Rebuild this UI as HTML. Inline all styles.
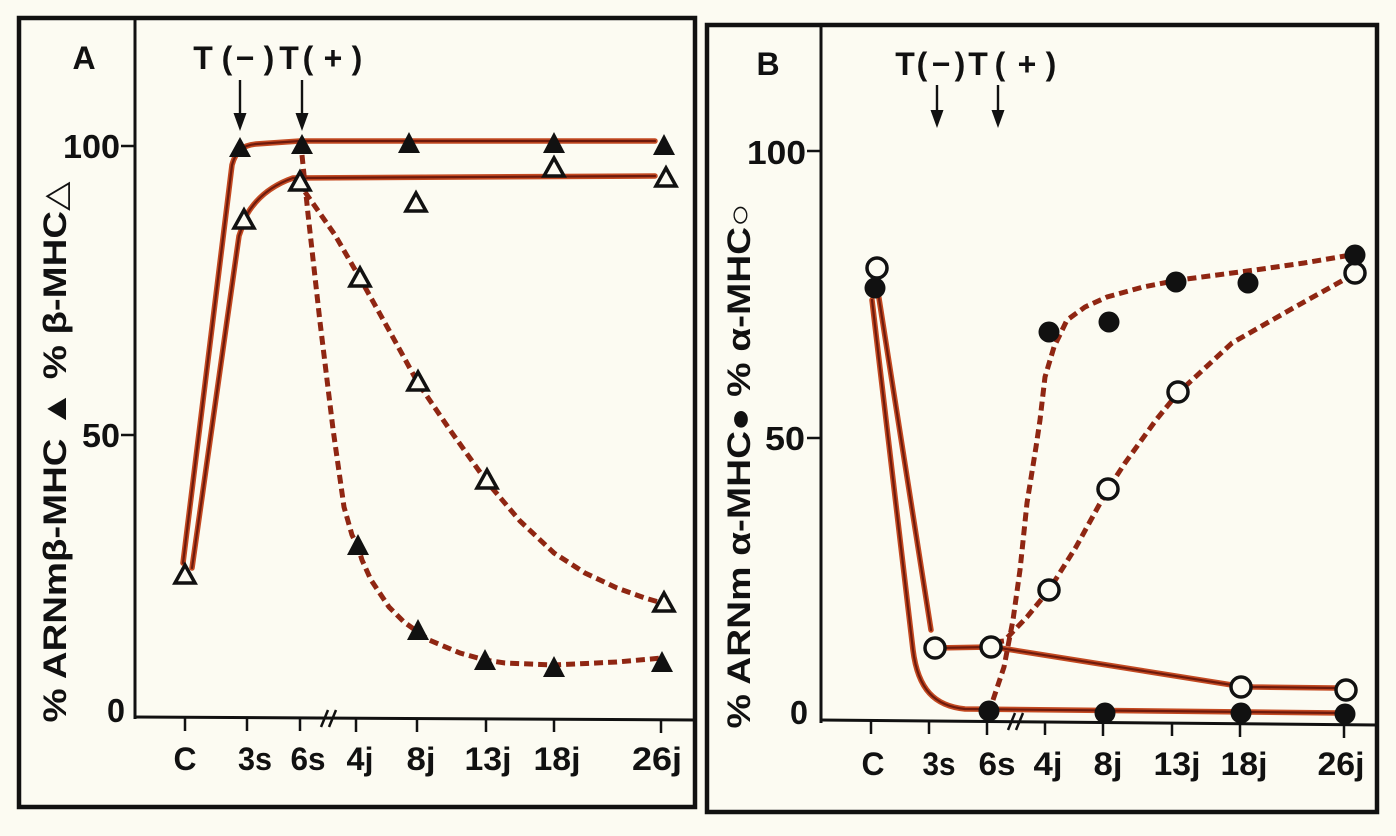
<!DOCTYPE html>
<html><head><meta charset="utf-8"><style>
html,body{margin:0;padding:0;background:#fcfbf2;}
svg{display:block;}
text{font-family:"Liberation Sans","DejaVu Sans",sans-serif;fill:#111;}
</style></head><body>
<svg width="1396" height="836" viewBox="0 0 1396 836" xmlns="http://www.w3.org/2000/svg">
<rect x="0" y="0" width="1396" height="836" fill="#fcfbf2"/>

<!-- ================= PANEL A ================= -->
<rect x="19" y="18" width="676" height="789" fill="none" stroke="#111" stroke-width="4.5"/>
<line x1="135" y1="18" x2="135" y2="719" stroke="#111" stroke-width="3"/>
<line x1="134" y1="717" x2="695" y2="720" stroke="#111" stroke-width="3"/>
<line x1="121" y1="146" x2="135" y2="146" stroke="#111" stroke-width="2.5"/>
<line x1="121" y1="435" x2="135" y2="435" stroke="#111" stroke-width="2.5"/>
<g stroke="#111" stroke-width="2.5">
<line x1="185" y1="718" x2="185" y2="731"/><line x1="247" y1="718" x2="247" y2="731"/>
<line x1="300" y1="718" x2="300" y2="731"/><line x1="356" y1="719" x2="356" y2="732"/>
<line x1="417" y1="719" x2="417" y2="732"/><line x1="486" y1="719" x2="486" y2="732"/>
<line x1="554" y1="719" x2="554" y2="732"/><line x1="661" y1="720" x2="661" y2="733"/>
<line x1="321" y1="727" x2="328" y2="710"/><line x1="329" y1="727" x2="336" y2="710"/>
</g>
<g font-weight="bold" font-size="33" text-anchor="end">
<text x="120" y="158" textLength="57" lengthAdjust="spacingAndGlyphs">100</text>
<text x="120" y="447" textLength="38" lengthAdjust="spacingAndGlyphs">50</text>
<text x="125" y="722" textLength="18" lengthAdjust="spacingAndGlyphs">0</text>
</g>
<g font-weight="bold" font-size="32" text-anchor="middle">
<text x="185" y="770" textLength="23" lengthAdjust="spacingAndGlyphs">C</text>
<text x="255" y="770" textLength="34" lengthAdjust="spacingAndGlyphs">3s</text>
<text x="308" y="770" textLength="35" lengthAdjust="spacingAndGlyphs">6s</text>
<text x="360" y="770" textLength="27" lengthAdjust="spacingAndGlyphs">4j</text>
<text x="421" y="770" textLength="29" lengthAdjust="spacingAndGlyphs">8j</text>
<text x="488" y="770" textLength="47" lengthAdjust="spacingAndGlyphs">13j</text>
<text x="557" y="770" textLength="47" lengthAdjust="spacingAndGlyphs">18j</text>
<text x="657" y="770" textLength="50" lengthAdjust="spacingAndGlyphs">26j</text>
</g>
<text transform="translate(66,452) rotate(-90)" text-anchor="middle" font-weight="bold" font-size="32" textLength="541" lengthAdjust="spacingAndGlyphs">% ARNmβ-MHC ▲ % β-MHC△</text>
<text x="84" y="69" text-anchor="middle" font-weight="bold" font-size="32">A</text>
<g font-size="32" font-weight="bold" text-anchor="middle">
<text x="203" y="69">T</text><text x="227" y="69">(</text><text x="245" y="69">−</text><text x="269" y="69">)</text>
<text x="289" y="69">T</text><text x="308" y="69">(</text><text x="333" y="69">+</text><text x="357" y="69">)</text>
</g>
<g stroke="#111" stroke-width="2.4">
<line x1="240" y1="80" x2="240" y2="118"/><line x1="302" y1="80" x2="302" y2="118"/>
</g>
<polygon points="233.5,113 246.5,113 240,131" fill="#111"/>
<polygon points="295.5,113 308.5,113 302,131" fill="#111"/>

<g fill="none" stroke-linecap="round" stroke-linejoin="round">
<path d="M183,563 L232,165 C236,150 244,145 256,144 L300,141 L655,141" stroke="#c44a22" stroke-width="5.5"/>
<path d="M183,563 L232,165 C236,150 244,145 256,144 L300,141 L655,141" stroke="#6e1a0c" stroke-width="2.2"/>
<path d="M192,568 L239,236 L246,216 C255,200 270,186 293,178 L655,176" stroke="#c44a22" stroke-width="5.5"/>
<path d="M192,568 L239,236 L246,216 C255,200 270,186 293,178 L655,176" stroke="#6e1a0c" stroke-width="2.2"/>
</g>
<g fill="none" stroke="#8f2612" stroke-width="5" stroke-dasharray="9 5">
<path d="M302,155 L308,214 L320,322 L333,429 L344,507 L352,535 L358,547 L362,560 L371,580 L389,607 L404,622 L418,632 L429,640 L460,653 L485,660 L505,663 L554,665 L617,662 L662,658"/>
<path d="M305,192 L335,235 L361,280 L390,332 L418,383 L450,430 L487,482 L520,521 L554,553 L585,573 L617,588 L645,598 L662,603"/>
</g>
<g fill="#111">
<polygon points="229,157 251,157 240,137"/>
<polygon points="291,154 313,154 302,134"/>
<polygon points="398,153 420,153 409,132"/>
<polygon points="543,153 565,153 554,132"/>
<polygon points="653,155 675,155 664,134"/>
<polygon points="347,555 369,555 358,534"/>
<polygon points="407,640 429,640 418,619"/>
<polygon points="474,670 496,670 485,649"/>
<polygon points="543,677 565,677 554,656"/>
<polygon points="651,672 673,672 662,651"/>
</g>
<g fill="#fcfbf2" stroke="#111" stroke-width="3.5" stroke-linejoin="miter">
<polygon points="175,583 195,583 185,565"/>
<polygon points="234,228 254,228 244,210"/>
<polygon points="290,190 310,190 300,172"/>
<polygon points="406,211 426,211 416,193"/>
<polygon points="544,176 564,176 554,158"/>
<polygon points="656,186 676,186 666,168"/>
<polygon points="350,286 370,286 360,268"/>
<polygon points="408,390 428,390 418,372"/>
<polygon points="477,488 497,488 487,470"/>
<polygon points="654,611 674,611 664,593"/>
</g>

<!-- ================= PANEL B ================= -->
<rect x="707" y="25" width="670" height="787" fill="none" stroke="#111" stroke-width="4.5"/>
<line x1="821" y1="25" x2="821" y2="723" stroke="#111" stroke-width="3"/>
<line x1="820" y1="720" x2="1377" y2="725" stroke="#111" stroke-width="3"/>
<line x1="807" y1="151" x2="821" y2="151" stroke="#111" stroke-width="2.5"/>
<line x1="807" y1="438" x2="821" y2="438" stroke="#111" stroke-width="2.5"/>
<g stroke="#111" stroke-width="2.5">
<line x1="871" y1="721" x2="871" y2="734"/><line x1="929" y1="721" x2="929" y2="734"/>
<line x1="987" y1="722" x2="987" y2="735"/><line x1="1045" y1="722" x2="1045" y2="735"/>
<line x1="1103" y1="723" x2="1103" y2="736"/><line x1="1172" y1="723" x2="1172" y2="736"/>
<line x1="1240" y1="724" x2="1240" y2="737"/><line x1="1344" y1="725" x2="1344" y2="738"/>
<line x1="1008" y1="730" x2="1015" y2="713"/><line x1="1016" y1="730" x2="1023" y2="713"/>
</g>
<g font-weight="bold" font-size="33" text-anchor="end">
<text x="806" y="164" textLength="59" lengthAdjust="spacingAndGlyphs">100</text>
<text x="805" y="450" textLength="40" lengthAdjust="spacingAndGlyphs">50</text>
<text x="808" y="724" textLength="18" lengthAdjust="spacingAndGlyphs">0</text>
</g>
<g font-weight="bold" font-size="32" text-anchor="middle">
<text x="873" y="775" textLength="23" lengthAdjust="spacingAndGlyphs">C</text>
<text x="939" y="775" textLength="33" lengthAdjust="spacingAndGlyphs">3s</text>
<text x="997" y="775" textLength="37" lengthAdjust="spacingAndGlyphs">6s</text>
<text x="1048" y="775" textLength="29" lengthAdjust="spacingAndGlyphs">4j</text>
<text x="1108" y="775" textLength="29" lengthAdjust="spacingAndGlyphs">8j</text>
<text x="1177" y="775" textLength="47" lengthAdjust="spacingAndGlyphs">13j</text>
<text x="1244" y="775" textLength="47" lengthAdjust="spacingAndGlyphs">18j</text>
<text x="1341" y="775" textLength="47" lengthAdjust="spacingAndGlyphs">26j</text>
</g>
<text transform="translate(750,466) rotate(-90)" text-anchor="middle" font-weight="bold" font-size="32" textLength="525" lengthAdjust="spacingAndGlyphs">% ARNm α-MHC● % α-MHC○</text>
<text x="768" y="75" text-anchor="middle" font-weight="bold" font-size="32">B</text>
<g font-size="32" font-weight="bold" text-anchor="middle">
<text x="905" y="75">T</text><text x="922" y="75">(</text><text x="941" y="75">−</text><text x="960" y="75">)</text>
<text x="978" y="75">T</text><text x="1000" y="75">(</text><text x="1027" y="75">+</text><text x="1051" y="75">)</text>
</g>
<g stroke="#111" stroke-width="2.4">
<line x1="937" y1="85" x2="937" y2="115"/><line x1="998" y1="85" x2="998" y2="115"/>
</g>
<polygon points="930.5,110 943.5,110 937,128" fill="#111"/>
<polygon points="991.5,110 1004.5,110 998,128" fill="#111"/>

<g fill="none" stroke-linecap="round" stroke-linejoin="round">
<path d="M878,292 L931,630 M935,648 L991,647 L1000,648 L1232,685 L1253,687 L1335,688" stroke="#c44a22" stroke-width="5.5"/>
<path d="M878,292 L931,630 M935,648 L991,647 L1000,648 L1232,685 L1253,687 L1335,688" stroke="#6e1a0c" stroke-width="2.2"/>
<path d="M872,300 L913,650 C918,690 935,706 965,709 L1340,713" stroke="#c44a22" stroke-width="5.5"/>
<path d="M872,300 L913,650 C918,690 935,706 965,709 L1340,713" stroke="#6e1a0c" stroke-width="2.2"/>
</g>
<g fill="none" stroke="#8f2612" stroke-width="5" stroke-dasharray="9 5">
<path d="M993,700 L1004,667 L1013,620 L1020,570 L1027,503 L1036,447 L1040,420 L1045,377 L1054,347 L1067,320 L1085,307 L1107,297 L1143,287 L1179,280 L1255,270 L1304,263 L1351,255"/>
<path d="M995,642 L1004,641 L1027,617 L1049,590 L1076,547 L1098,507 L1108,489 L1125,463 L1156,420 L1178,393 L1232,343 L1295,307 L1349,277"/>
</g>
<g fill="#111">
<circle cx="875" cy="288" r="10.5"/>
</g>
<g fill="#fcfbf2" stroke="#111" stroke-width="3.5">
<circle cx="877" cy="268" r="10"/>
<circle cx="935" cy="648" r="10"/>
<circle cx="991" cy="647" r="10"/>
<circle cx="1049" cy="590" r="10"/>
<circle cx="1108" cy="489" r="10"/>
<circle cx="1178" cy="392" r="10"/>
<circle cx="1241" cy="687" r="10"/>
<circle cx="1346" cy="690" r="10"/>
<circle cx="1355" cy="273" r="10"/>
</g>
<g fill="#111">
<circle cx="989" cy="711" r="10.5"/>
<circle cx="1105" cy="713" r="10.5"/>
<circle cx="1241" cy="713" r="10.5"/>
<circle cx="1345" cy="714" r="10.5"/>
<circle cx="1049" cy="332" r="10.5"/>
<circle cx="1109" cy="322" r="10.5"/>
<circle cx="1176" cy="282" r="10.5"/>
<circle cx="1248" cy="283" r="10.5"/>
<circle cx="1355" cy="255" r="10.5"/>
</g>
</svg>
</body></html>
